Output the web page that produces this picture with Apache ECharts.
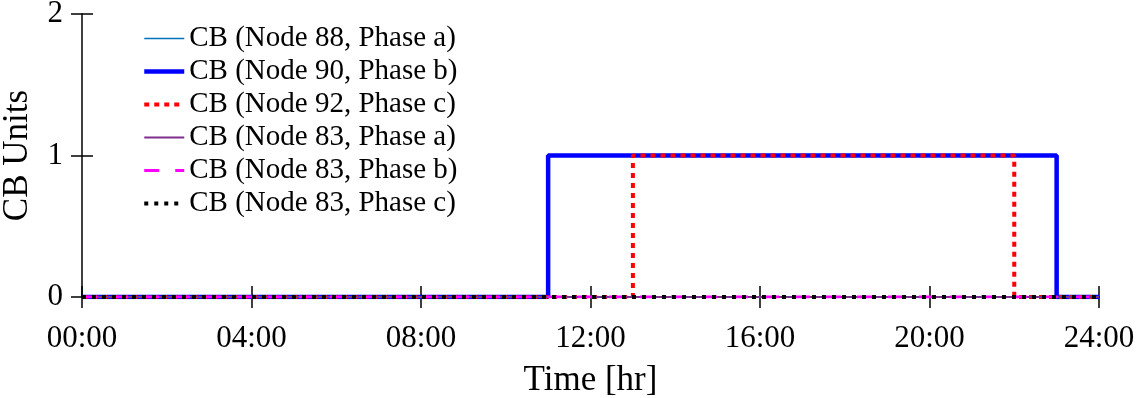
<!DOCTYPE html>
<html>
<head>
<meta charset="utf-8">
<script src="https://cdn.jsdelivr.net/npm/echarts@6/dist/echarts.min.js"></script>
<style>html,body{margin:0;padding:0;background:#fff;}#c{width:1136px;height:398px;}</style>
</head>
<body>
<div id="c"></div>
<script>
const hours = [0,1,2,3,4,5,6,7,8,9,10,11,12,13,14,15,16,17,18,19,20,21,22,23,24];
const tickLabels = ['00:00','04:00','08:00','12:00','16:00','20:00','24:00'];
const seriesNames = ['CB (Node 88, Phase a)','CB (Node 90, Phase b)','CB (Node 92, Phase c)','CB (Node 83, Phase a)','CB (Node 83, Phase b)','CB (Node 83, Phase c)'];
const cb88a = [0,0,0,0,0,0,0,0,0,0,0,0,0,0,0,0,0,0,0,0,0,0,0,0,0];
const cb90b = [0,0,0,0,0,0,0,0,0,0,0,1,1,1,1,1,1,1,1,1,1,1,1,0,0];
const cb92c = [0,0,0,0,0,0,0,0,0,0,0,0,0,1,1,1,1,1,1,1,1,1,0,0,0];
const cb83a = [0,0,0,0,0,0,0,0,0,0,0,0,0,0,0,0,0,0,0,0,0,0,0,0,0];
const cb83b = [0,0,0,0,0,0,0,0,0,0,0,0,0,0,0,0,0,0,0,0,0,0,0,0,0];
const cb83c = [0,0,0,0,0,0,0,0,0,0,0,0,0,0,0,0,0,0,0,0,0,0,0,0,0];
const yTicks = [0,1,2];

const FONT = "'Liberation Serif','Times New Roman',serif";
const valuesList = [cb88a, cb90b, cb92c, cb83a, cb83b, cb83c];
const styles = [
  {color:'#0072BD', width:1.5, type:'solid'},
  {color:'#0000FF', width:4.5, type:'solid'},
  {color:'#FF0000', width:4, type:[5,5]},
  {color:'#7E2F8E', width:2, type:'solid'},
  {color:'#FF00FF', width:3, type:[15,16]},
  {color:'#000000', width:4, type:[4,6]}
];
const series = valuesList.map((vals, i) => ({
  name: seriesNames[i],
  type: 'line',
  step: 'end',
  symbol: 'none',
  showSymbol: false,
  animation: false,
  data: hours.map((h, j) => [h, vals[j]]),
  color: styles[i].color,
  lineStyle: {color: styles[i].color, width: styles[i].width, type: styles[i].type, cap: 'butt'}
}));

const chart = echarts.init(document.getElementById('c'));
chart.setOption({
  animation: false,
  backgroundColor: '#fff',
  grid: {left: 82, right: 37, top: 14, bottom: 101, containLabel: false, outerBoundsMode: 'none'},
  legend: {
    orient: 'vertical', left: 137, top: 19,
    itemWidth: 40, itemHeight: 12, itemGap: 4,
    data: seriesNames.map((n, i) => ({
      name: n,
      lineStyle: {color: styles[i].color, width: styles[i].width, type: styles[i].type, cap: 'butt'},
      itemStyle: {opacity: 0}
    })),
    itemStyle: {opacity: 0},
    textStyle: {fontFamily: FONT, fontSize: 29, color: '#000', lineHeight: 29}
  },
  xAxis: [
    {
      type: 'value', min: 0, max: 24, interval: 4,
      name: 'Time [hr]', nameLocation: 'middle', nameGap: 66,
      nameTextStyle: {fontFamily: FONT, fontSize: 35, color: '#000'},
      axisLine: {show: true, onZero: false, lineStyle: {color: '#000', width: 1.5}},
      axisTick: {show: true, inside: false, length: 11, lineStyle: {color: '#000', width: 1.5}},
      axisLabel: {fontFamily: FONT, fontSize: 31, color: '#000', margin: 26,
        formatter: v => tickLabels[Math.round(v / 4)]},
      splitLine: {show: false}
    },
    {
      type: 'value', min: 0, max: 24, interval: 4, position: 'bottom',
      axisLine: {show: false},
      axisTick: {show: true, inside: true, length: 11, lineStyle: {color: '#000', width: 1.5}},
      axisLabel: {show: false},
      splitLine: {show: false}
    }
  ],
  yAxis: [
    {
      type: 'value', min: 0, max: 2, interval: 1,
      name: 'CB Units', nameLocation: 'middle', nameGap: 47,
      nameTextStyle: {fontFamily: FONT, fontSize: 35, color: '#000'},
      axisLine: {show: true, lineStyle: {color: '#000', width: 1.5}},
      axisTick: {show: true, inside: false, length: 11, lineStyle: {color: '#000', width: 1.5}},
      axisLabel: {fontFamily: FONT, fontSize: 31, color: '#000', margin: 19,
        formatter: v => String(yTicks[Math.round(v)])},
      splitLine: {show: false}
    },
    {
      type: 'value', min: 0, max: 2, interval: 1, position: 'left',
      axisLine: {show: false},
      axisTick: {show: true, inside: true, length: 11, lineStyle: {color: '#000', width: 1.5}},
      axisLabel: {show: false},
      splitLine: {show: false}
    }
  ],
  series: series
});
</script>
</body>
</html>
